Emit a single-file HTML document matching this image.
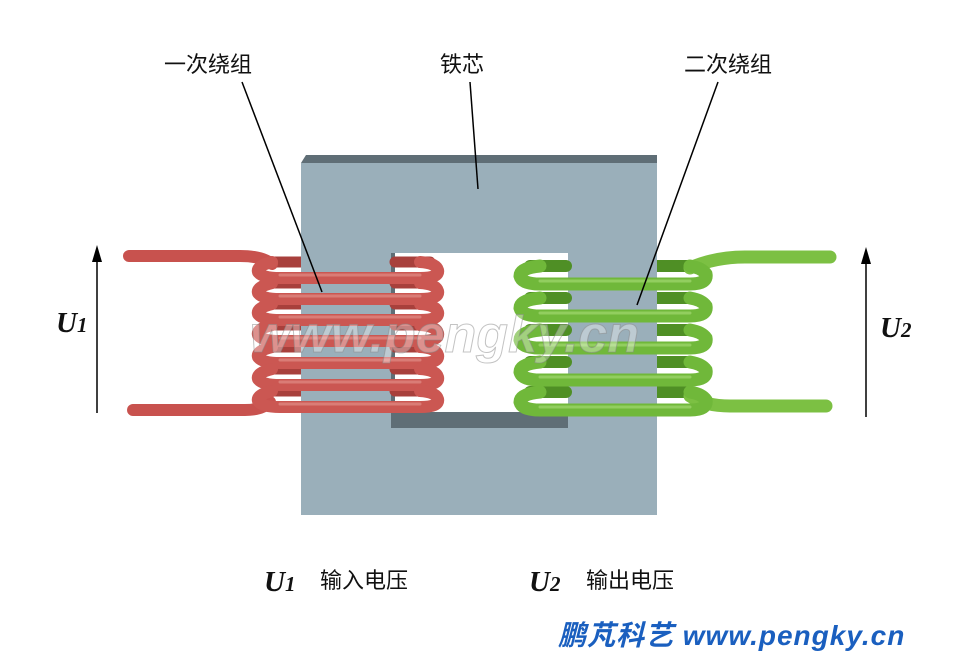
<!DOCTYPE html>
<html><head><meta charset="utf-8"><style>
body{margin:0;background:#fff;width:960px;height:662px;overflow:hidden}
svg{display:block}
.t{font-family:"Liberation Sans","Noto Sans CJK SC",sans-serif;font-size:22px;fill:#111}
.u{font-family:"Liberation Serif",serif;font-weight:bold;font-style:italic;font-size:29px;fill:#111}
</style></head><body>
<svg width="960" height="662" viewBox="0 0 960 662">
<g fill="none" stroke-linecap="round">
<!-- back strands (behind core) -->
<g stroke="#a8403c" stroke-width="11">
<path d="M270,262 H430 M270,283 H430 M270,304 H430 M270,325 H430 M270,347 H430 M270,369 H430 M270,391 H430"/>
</g>
<g stroke="#4f8f25" stroke-width="12">
<path d="M530,266 H690 M530,298 H690 M530,330 H690 M530,362 H690 M530,392 H690"/>
</g>
</g>
<!-- core -->
<rect x="301" y="163" width="356" height="352" fill="#9aafba"/>
<polygon points="301,163 306,155 657,155 657,163" fill="#5f6e76"/>
<rect x="391" y="253" width="177" height="175" fill="#5f6e76"/>
<rect x="395" y="253" width="173" height="159" fill="#fff"/>
<g fill="none" stroke-linecap="round">
<path d="M395,262 H430 M395,283 H430 M395,304 H430 M395,325 H430 M395,347 H430 M395,369 H430 M395,391 H430" stroke="#a8403c" stroke-width="11"/>
<path d="M530,266 H566 M530,298 H566 M530,330 H566 M530,362 H566 M530,392 H566" stroke="#4f8f25" stroke-width="12"/>
<!-- red leads -->
<path d="M129,256 H240 Q262,256 272,264" stroke="#c8524e" stroke-width="12"/>
<path d="M133,410 H245 Q262,410 270,402" stroke="#c8524e" stroke-width="12"/>
<g stroke="#cb5752" stroke-width="12">
<path d="M272,262 Q256,266 258,272 Q262,278 280,278 H420 Q440,278 438,270 Q436,263 420,262"/>
<path d="M272,283 Q256,287 258,293 Q262,299 280,299 H420 Q440,299 438,291 Q436,284 420,283"/>
<path d="M272,304 Q256,308 258,314 Q262,320 280,320 H420 Q440,320 438,312 Q436,305 420,304"/>
<path d="M272,325 Q256,329 258,335 Q262,341 280,341 H420 Q440,341 438,333 Q436,326 420,325"/>
<path d="M272,347 Q256,351 258,357 Q262,363 280,363 H420 Q440,363 438,355 Q436,348 420,347"/>
<path d="M272,369 Q256,373 258,379 Q262,385 280,385 H420 Q440,385 438,377 Q436,370 420,369"/>
<path d="M272,391 Q256,395 258,401 Q262,407 280,407 H420 Q440,407 438,399 Q436,392 420,391"/>
</g>
<g stroke="#e59590" stroke-width="3" opacity=".6">
<path d="M280,275 H420 M280,296 H420 M280,317 H420 M280,338 H420 M280,360 H420 M280,382 H420 M280,404 H420"/>
</g>
<!-- green leads -->
<path d="M690,268 Q715,257 745,257 H830" stroke="#7cc043" stroke-width="13"/>
<path d="M690,396 Q705,406 730,406 H826" stroke="#7cc043" stroke-width="13"/>
<g stroke="#70b83a" stroke-width="13">
<path d="M540,266 Q520,268 520,276 Q522,284 540,284 H690 Q708,284 706,274 Q702,268 690,266"/>
<path d="M540,298 Q520,300 520,308 Q522,316 540,316 H690 Q708,316 706,306 Q702,300 690,298"/>
<path d="M540,330 Q520,332 520,340 Q522,348 540,348 H690 Q708,348 706,338 Q702,332 690,330"/>
<path d="M540,362 Q520,364 520,372 Q522,380 540,380 H690 Q708,380 706,370 Q702,364 690,362"/>
<path d="M540,392 Q520,394 520,402 Q522,410 540,410 H690 Q708,410 706,400 Q702,394 690,392"/>
</g>
<g stroke="#a8dc78" stroke-width="3" opacity=".6">
<path d="M540,281 H690 M540,313 H690 M540,345 H690 M540,377 H690 M540,407 H690"/>
</g>
</g>
<!-- watermark -->
<text x="250" y="352" font-family="Liberation Sans,sans-serif" font-style="italic" font-weight="bold" font-size="52" fill="#fff" fill-opacity=".35" stroke="#888" stroke-opacity=".5" stroke-width="1">www.pengky.cn</text>
<!-- leaders -->
<g stroke="#000" stroke-width="1.5">
<line x1="242" y1="82" x2="322" y2="292"/>
<line x1="470" y1="82" x2="478" y2="189"/>
<line x1="718" y1="82" x2="637" y2="305"/>
<line x1="97" y1="413" x2="97" y2="258"/>
<line x1="866" y1="417" x2="866" y2="260"/>
</g>
<polygon points="92,262 97,245 102,262" fill="#000"/>
<polygon points="861,264 866,247 871,264" fill="#000"/>
<text class="t" x="164" y="72">一次绕组</text>
<text class="t" x="440" y="72">铁芯</text>
<text class="t" x="684" y="72">二次绕组</text>
<text class="u" x="56" y="332">U<tspan font-size="21">1</tspan></text>
<text class="u" x="880" y="337">U<tspan font-size="21">2</tspan></text>
<text class="u" x="264" y="591">U<tspan font-size="21">1</tspan></text>
<text class="t" x="320" y="588" font-size="20">输入电压</text>
<text class="u" x="529" y="591">U<tspan font-size="21">2</tspan></text>
<text class="t" x="586" y="588" font-size="20">输出电压</text>
<text x="558" y="645" font-family="Liberation Sans,'Noto Sans CJK SC',sans-serif" font-style="italic" font-weight="bold" font-size="28" letter-spacing="1" fill="#1a5fbf">鹏芃科艺 www.pengky.cn</text>
</svg>
</body></html>
